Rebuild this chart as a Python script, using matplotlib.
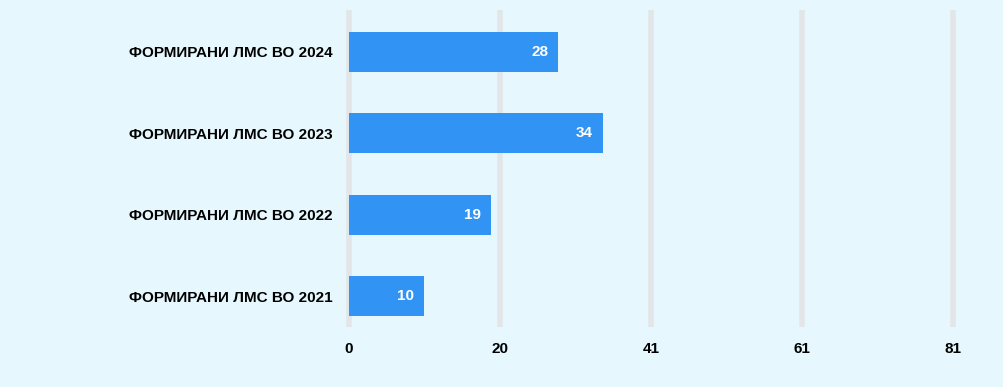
import matplotlib.pyplot as plt

# data
categories = ["ФОРМИРАНИ ЛМС ВО 2021", "ФОРМИРАНИ ЛМС ВО 2022",
              "ФОРМИРАНИ ЛМС ВО 2023", "ФОРМИРАНИ ЛМС ВО 2024"]
values = [10, 19, 34, 28]
tick_values = [0, 20.25, 40.5, 60.75, 81]
tick_labels = ["0", "20", "41", "61", "81"]

bg = "#E6F8FE"
bar_color = "#3194F4"

plt.rcParams["font.family"] = ["Liberation Sans", "DejaVu Sans"]

fig = plt.figure(figsize=(10.04, 3.87), dpi=100, facecolor=bg)
ax = fig.add_axes([349 / 1004, 1 - 327 / 387, (953 - 349) / 1004, 317 / 387])
ax.set_facecolor(bg)

y = list(range(len(categories)))
ax.barh(y, values, height=0.49, color=bar_color, zorder=3)

# value labels inside bar ends
for yi, v in zip(y, values):
    ax.text(v - 1.3, yi, str(v), ha="right", va="center", color="white",
            fontsize=11, fontweight="bold", zorder=4)

ax.set_xlim(0, 81)
ax.set_ylim(-0.38, 3.51)
ax.set_xticks(tick_values)
ax.set_xticklabels(tick_labels, fontsize=11, fontweight="bold")
ax.set_yticks(y)
ax.set_yticklabels(categories, fontsize=11, fontweight="bold")
ax.tick_params(axis="both", length=0)
ax.tick_params(axis="y", pad=12)
ax.tick_params(axis="x", pad=11)

# vertical grid lines, not clipped so the last one shows in full
ax.vlines(tick_values, -0.38, 3.51, color="#E3E6E8", linewidth=4,
          zorder=1, clip_on=False)
for s in ax.spines.values():
    s.set_visible(False)

fig.savefig("out.png", dpi=100, facecolor=bg)
